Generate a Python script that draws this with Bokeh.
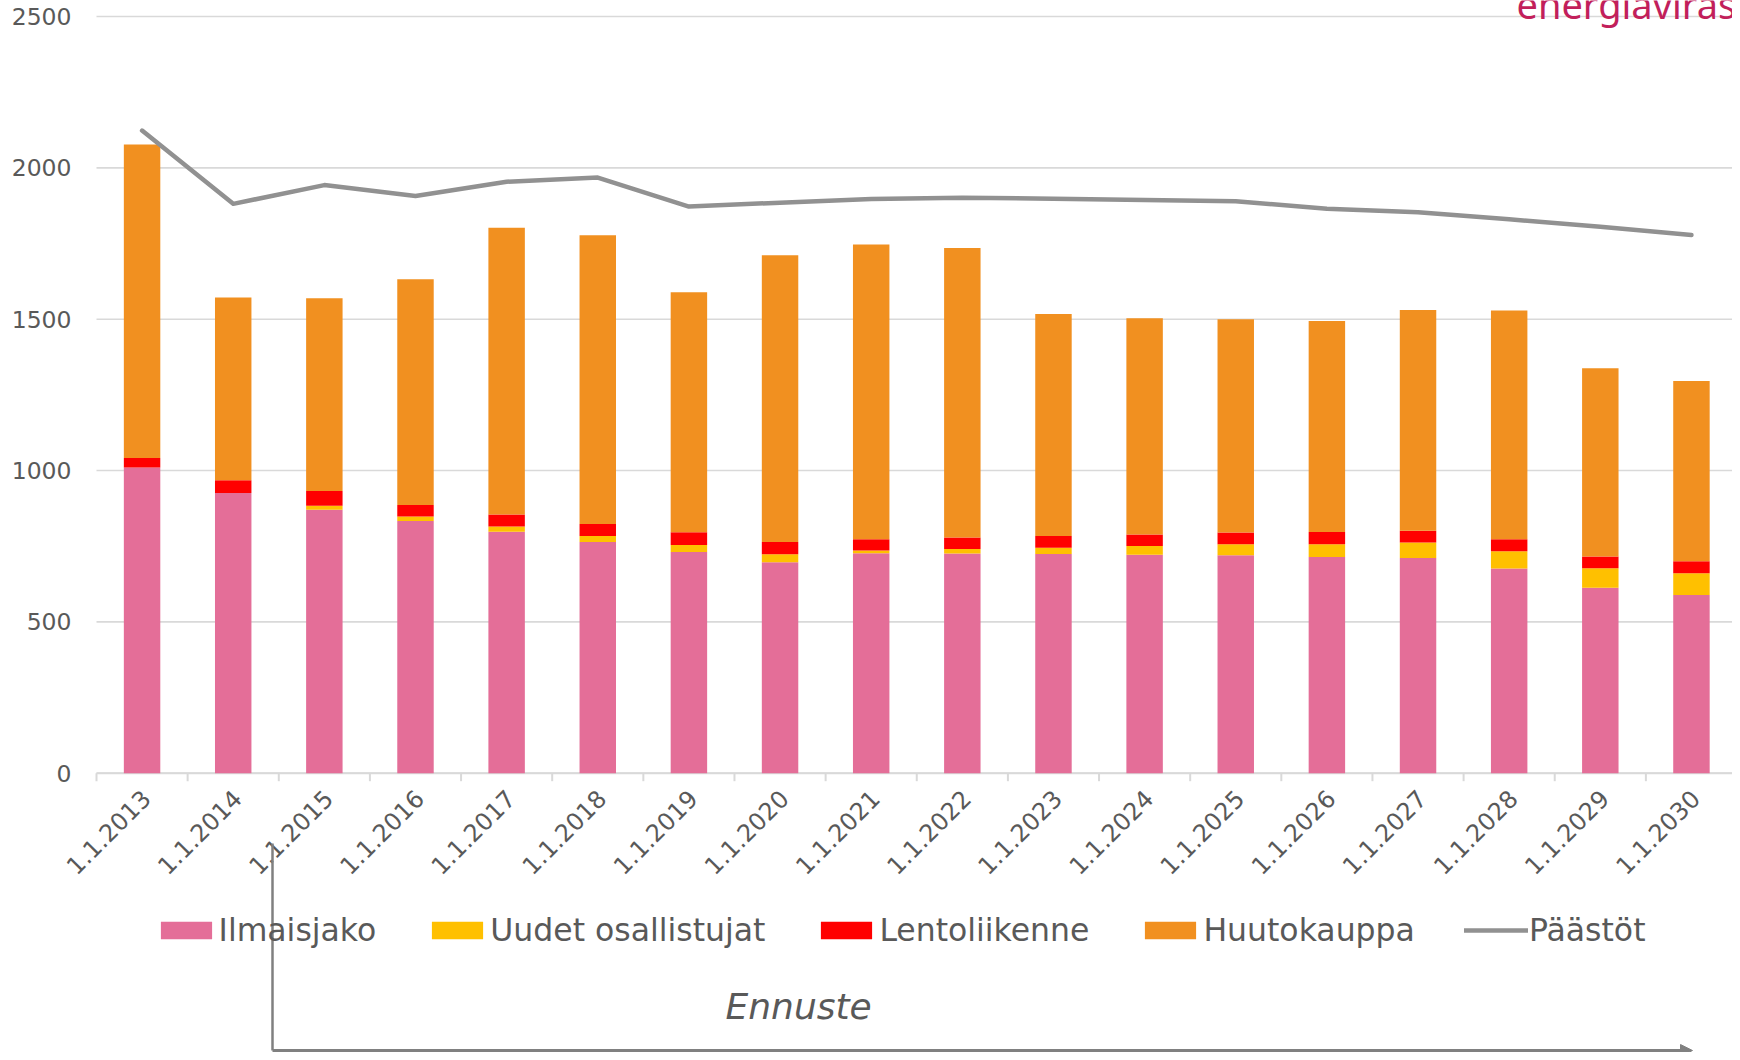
import math
from bokeh.plotting import figure
from bokeh.models import (Range1d, Legend, LegendItem, Label,
                          Arrow, NormalHead, ColumnDataSource)
from bokeh.embed import file_html
from bokeh.resources import INLINE
from bokeh.core.properties import value

# ---------------- data ----------------
years = ["1.1.2013", "1.1.2014", "1.1.2015", "1.1.2016", "1.1.2017", "1.1.2018",
         "1.1.2019", "1.1.2020", "1.1.2021", "1.1.2022", "1.1.2023", "1.1.2024",
         "1.1.2025", "1.1.2026", "1.1.2027", "1.1.2028", "1.1.2029", "1.1.2030"]
ilmaisjako = [1010, 926, 870, 833, 798, 764, 731, 697, 727, 726, 724, 722, 720, 714, 711, 676, 613, 589]
uudet = [0, 0, 14, 15, 17, 20, 23, 26, 9, 15, 21, 29, 36, 42, 51, 57, 64, 72]
lentoliikenne = [31, 42, 48, 38, 40, 39, 42, 41, 37, 38, 39, 38, 39, 41, 39, 40, 39, 39]
huutokauppa = [1036, 604, 637, 746, 947, 954, 793, 947, 974, 956, 733, 714, 705, 697, 729, 756, 622, 596]
paastot = [2123, 1881, 1943, 1907, 1954, 1968, 1872, 1885, 1897, 1901, 1898, 1894, 1890, 1865, 1853, 1830, 1805, 1778]
y_ticks = [0, 500, 1000, 1500, 2000, 2500]
y_tick_labels = ["0", "500", "1000", "1500", "2000", "2500"]
series_names = ["Ilmaisjako", "Uudet osallistujat", "Lentoliikenne", "Huutokauppa"]
line_name = "Päästöt"

# ---------------- styling / layout ----------------
colors = ["#E46E98", "#FFC000", "#FF0000", "#F19020"]
line_color = "#919191"
text_gray = "#595959"
grid_gray = "#D9D9D9"
arrow_gray = "#808080"
FONT = "DejaVu Sans"

W, H = 1732, 1052
LEFT = 96             # pixel column where the category axis starts
PX = 0.30268          # pixels per value unit
CAT = 91.14           # pixels per category
ZERO_Y = 772.7        # pixel row of value 0

def vx(px):
    return (px - LEFT) / CAT

def vy(py):
    return (ZERO_Y - py) / PX

n = len(years)
xs = [i + 0.5 for i in range(n)]
bounds = list(range(n + 1))
x_end = vx(W)

src = ColumnDataSource(dict(x=xs, ilm=ilmaisjako, uud=uudet, len_=lentoliikenne,
                            huu=huutokauppa, pas=paastot, lab=years))

p = figure(width=W, height=H, output_backend="svg", toolbar_location=None,
           x_range=Range1d(vx(0), x_end), y_range=Range1d(vy(H), vy(0)),
           x_axis_location=None, y_axis_location=None,
           min_border_left=0, min_border_right=0, min_border_top=0, min_border_bottom=0)
p.outline_line_color = None
p.background_fill_color = "white"
p.border_fill_color = "white"
p.xgrid.grid_line_color = None
p.ygrid.grid_line_color = None

# value gridlines + value labels
p.segment(x0=[0] * len(y_ticks), y0=y_ticks, x1=[x_end] * len(y_ticks), y1=y_ticks,
          line_color=grid_gray, line_width=1.6)
p.text(x=[0] * len(y_ticks), y=y_ticks, text=y_tick_labels, x_offset=-25,
       text_align="right", text_baseline="middle",
       text_font=value(FONT), text_font_size=value("23.5px"), text_color=text_gray)

# category axis: base line, boundary ticks, rotated labels
tick_len = 8 / PX
p.segment(x0=[0], y0=[0], x1=[x_end], y1=[0], line_color=grid_gray, line_width=2)
p.segment(x0=bounds, y0=[0] * len(bounds), x1=bounds, y1=[-tick_len] * len(bounds),
          line_color=grid_gray, line_width=2)
p.text(x="x", y=0, text="lab", source=src, angle=math.pi / 4, text_align="right",
       text_baseline="middle", x_offset=4, y_offset=21,
       text_font=value(FONT), text_font_size=value("24px"), text_color=text_gray)

# bars and line
bars = p.vbar_stack(["ilm", "uud", "len_", "huu"], x="x", width=0.4, source=src,
                    fill_color=colors, line_color=None)
ln = p.line("x", "pas", source=src, line_color=line_color, line_width=4.5,
            line_join="round", line_cap="round")

# legend
items = [LegendItem(label=nm, renderers=[r]) for nm, r in zip(series_names, bars)]
items.append(LegendItem(label=line_name, renderers=[ln]))
legend = Legend(items=items, orientation="horizontal", location=(153.6, H - 947.5),
                background_fill_alpha=0, border_line_color=None,
                label_text_font=FONT, label_text_font_size="31.5px",
                label_text_color=text_gray, glyph_width=64, glyph_height=22,
                label_standoff=1, spacing=49, padding=0, margin=0)
p.add_layout(legend)

# forecast annotation
p.add_layout(Arrow(end=None, x_start=vx(272), y_start=vy(843), x_end=vx(272), y_end=vy(1050),
                   line_color=arrow_gray, line_width=2.5))
p.add_layout(Arrow(end=NormalHead(size=12, fill_color=arrow_gray, line_color=arrow_gray),
                   x_start=vx(272), y_start=vy(1050), x_end=vx(1692), y_end=vy(1050),
                   line_color=arrow_gray, line_width=3))
p.add_layout(Label(x=vx(725), y=vy(1006), text="Ennuste", text_font=FONT, text_font_size="36px",
                   text_font_style="italic", text_color=text_gray, text_baseline="middle"))

# logo (cut at the top-right corner as in the original)
p.add_layout(Label(x=vx(1516), y=vy(3), text="energiavirasto", text_font="Noto Sans",
                   text_font_size="38px", text_color="#C21F5B", text_baseline="alphabetic"))

open("out.html", "w").write(file_html(p, INLINE))
